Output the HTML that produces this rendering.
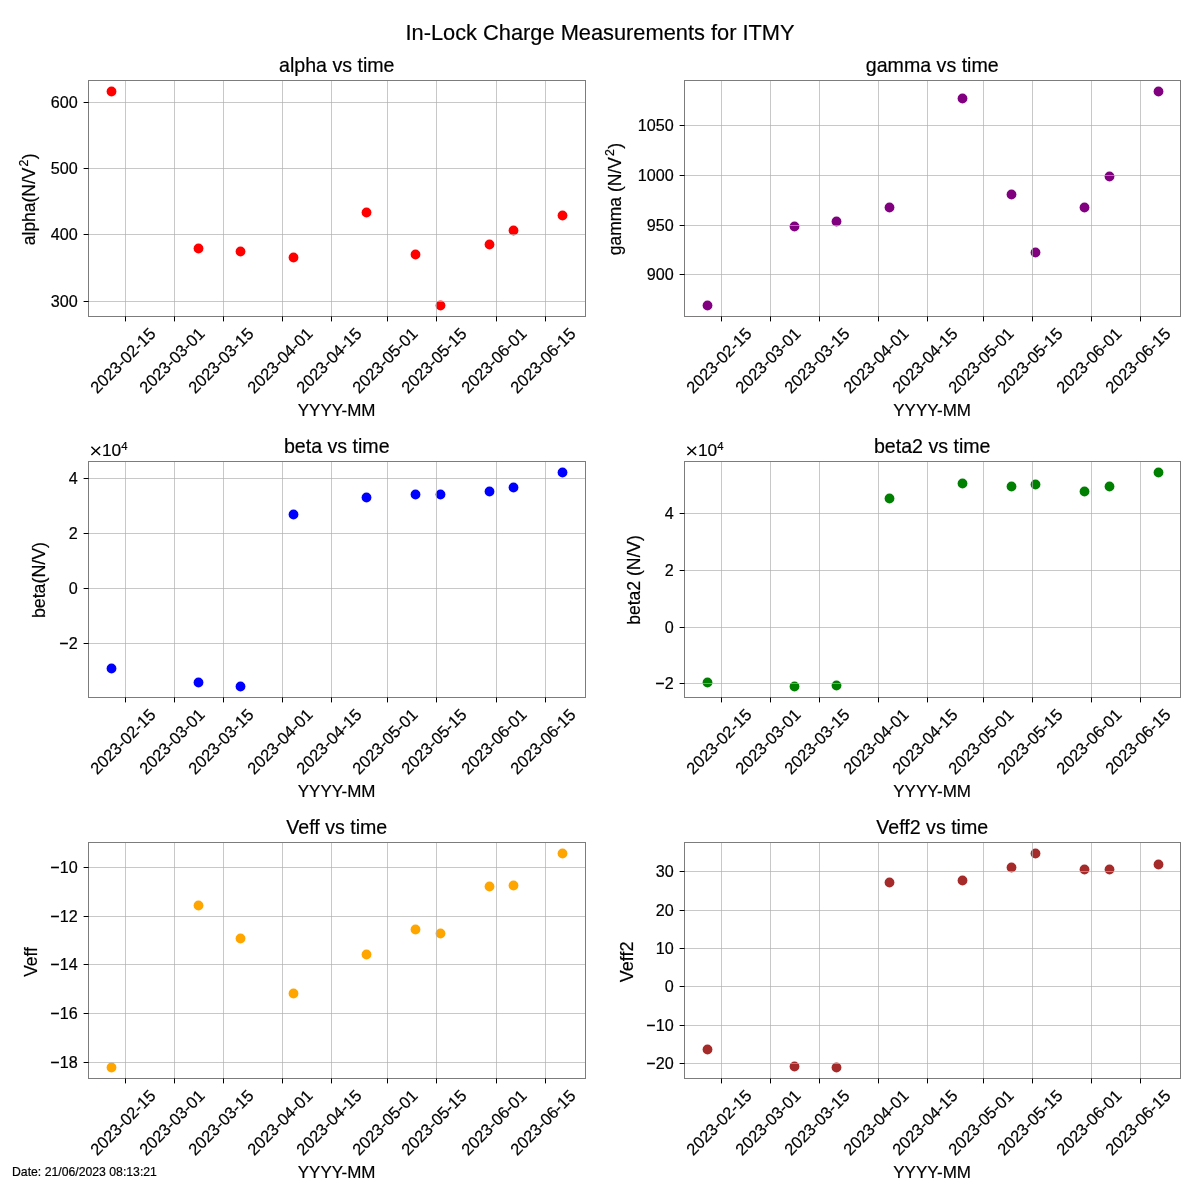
<!DOCTYPE html>
<html><head><meta charset="utf-8"><title>In-Lock Charge Measurements for ITMY</title>
<style>html,body{margin:0;padding:0;background:#fff;overflow:hidden}svg{display:block}text{font-family:"Liberation Sans", sans-serif;fill:#000;stroke:#000;stroke-width:0.2px}.t{filter:grayscale(1)}</style></head><body>
<svg width="1200" height="1200" viewBox="0 0 1200 1200">
<rect width="1200" height="1200" fill="#fff"/>
<g>
<g fill="#ff0000">
<circle cx="111.5" cy="91.5" r="4.9"/>
<circle cx="198.5" cy="248.5" r="4.9"/>
<circle cx="240.5" cy="251.5" r="4.9"/>
<circle cx="293.5" cy="257.5" r="4.9"/>
<circle cx="366.5" cy="212.5" r="4.9"/>
<circle cx="415.5" cy="254.5" r="4.9"/>
<circle cx="440.5" cy="305.5" r="4.9"/>
<circle cx="489.5" cy="244.5" r="4.9"/>
<circle cx="513.5" cy="230.5" r="4.9"/>
<circle cx="562.5" cy="215.5" r="4.9"/>
</g>
<g fill="#b0b0b0" fill-opacity="0.69" shape-rendering="crispEdges">
<rect x="125" y="81" width="1" height="235"/>
<rect x="174" y="81" width="1" height="235"/>
<rect x="223" y="81" width="1" height="235"/>
<rect x="282" y="81" width="1" height="235"/>
<rect x="331" y="81" width="1" height="235"/>
<rect x="387" y="81" width="1" height="235"/>
<rect x="436" y="81" width="1" height="235"/>
<rect x="496" y="81" width="1" height="235"/>
<rect x="545" y="81" width="1" height="235"/>
<rect x="89" y="102" width="496" height="1"/>
<rect x="89" y="168" width="496" height="1"/>
<rect x="89" y="234" width="496" height="1"/>
<rect x="89" y="301" width="496" height="1"/>
</g>
<g fill="#7c7c7c" shape-rendering="crispEdges">
<rect x="88" y="80" width="498" height="1"/>
<rect x="88" y="316" width="498" height="1"/>
<rect x="88" y="80" width="1" height="237"/>
<rect x="585" y="80" width="1" height="237"/>
</g>
<g fill="#000" shape-rendering="crispEdges">
<rect x="125" y="317" width="1" height="4"/>
<rect x="125" y="316" width="1" height="1" fill-opacity="0.6"/>
<rect x="125" y="321" width="1" height="1" fill-opacity="0.4"/>
<rect x="174" y="317" width="1" height="4"/>
<rect x="174" y="316" width="1" height="1" fill-opacity="0.6"/>
<rect x="174" y="321" width="1" height="1" fill-opacity="0.4"/>
<rect x="223" y="317" width="1" height="4"/>
<rect x="223" y="316" width="1" height="1" fill-opacity="0.6"/>
<rect x="223" y="321" width="1" height="1" fill-opacity="0.4"/>
<rect x="282" y="317" width="1" height="4"/>
<rect x="282" y="316" width="1" height="1" fill-opacity="0.6"/>
<rect x="282" y="321" width="1" height="1" fill-opacity="0.4"/>
<rect x="331" y="317" width="1" height="4"/>
<rect x="331" y="316" width="1" height="1" fill-opacity="0.6"/>
<rect x="331" y="321" width="1" height="1" fill-opacity="0.4"/>
<rect x="387" y="317" width="1" height="4"/>
<rect x="387" y="316" width="1" height="1" fill-opacity="0.6"/>
<rect x="387" y="321" width="1" height="1" fill-opacity="0.4"/>
<rect x="436" y="317" width="1" height="4"/>
<rect x="436" y="316" width="1" height="1" fill-opacity="0.6"/>
<rect x="436" y="321" width="1" height="1" fill-opacity="0.4"/>
<rect x="496" y="317" width="1" height="4"/>
<rect x="496" y="316" width="1" height="1" fill-opacity="0.6"/>
<rect x="496" y="321" width="1" height="1" fill-opacity="0.4"/>
<rect x="545" y="317" width="1" height="4"/>
<rect x="545" y="316" width="1" height="1" fill-opacity="0.6"/>
<rect x="545" y="321" width="1" height="1" fill-opacity="0.4"/>
<rect x="84" y="102" width="4" height="1"/>
<rect x="88" y="102" width="1" height="1" fill-opacity="0.6"/>
<rect x="83" y="102" width="1" height="1" fill-opacity="0.4"/>
<rect x="84" y="168" width="4" height="1"/>
<rect x="88" y="168" width="1" height="1" fill-opacity="0.6"/>
<rect x="83" y="168" width="1" height="1" fill-opacity="0.4"/>
<rect x="84" y="234" width="4" height="1"/>
<rect x="88" y="234" width="1" height="1" fill-opacity="0.6"/>
<rect x="83" y="234" width="1" height="1" fill-opacity="0.4"/>
<rect x="84" y="301" width="4" height="1"/>
<rect x="88" y="301" width="1" height="1" fill-opacity="0.6"/>
<rect x="83" y="301" width="1" height="1" fill-opacity="0.4"/>
</g>
</g>
<g>
<g fill="#800080">
<circle cx="707.5" cy="305.5" r="4.9"/>
<circle cx="794.5" cy="226.5" r="4.9"/>
<circle cx="836.5" cy="221.5" r="4.9"/>
<circle cx="889.5" cy="207.5" r="4.9"/>
<circle cx="962.5" cy="98.5" r="4.9"/>
<circle cx="1011.5" cy="194.5" r="4.9"/>
<circle cx="1035.5" cy="252.5" r="4.9"/>
<circle cx="1084.5" cy="207.5" r="4.9"/>
<circle cx="1109.5" cy="176.5" r="4.9"/>
<circle cx="1158.5" cy="91.5" r="4.9"/>
</g>
<g fill="#b0b0b0" fill-opacity="0.69" shape-rendering="crispEdges">
<rect x="721" y="81" width="1" height="235"/>
<rect x="770" y="81" width="1" height="235"/>
<rect x="819" y="81" width="1" height="235"/>
<rect x="878" y="81" width="1" height="235"/>
<rect x="927" y="81" width="1" height="235"/>
<rect x="983" y="81" width="1" height="235"/>
<rect x="1032" y="81" width="1" height="235"/>
<rect x="1091" y="81" width="1" height="235"/>
<rect x="1140" y="81" width="1" height="235"/>
<rect x="685" y="125" width="495" height="1"/>
<rect x="685" y="175" width="495" height="1"/>
<rect x="685" y="225" width="495" height="1"/>
<rect x="685" y="274" width="495" height="1"/>
</g>
<g fill="#7c7c7c" shape-rendering="crispEdges">
<rect x="684" y="80" width="497" height="1"/>
<rect x="684" y="316" width="497" height="1"/>
<rect x="684" y="80" width="1" height="237"/>
<rect x="1180" y="80" width="1" height="237"/>
</g>
<g fill="#000" shape-rendering="crispEdges">
<rect x="721" y="317" width="1" height="4"/>
<rect x="721" y="316" width="1" height="1" fill-opacity="0.6"/>
<rect x="721" y="321" width="1" height="1" fill-opacity="0.4"/>
<rect x="770" y="317" width="1" height="4"/>
<rect x="770" y="316" width="1" height="1" fill-opacity="0.6"/>
<rect x="770" y="321" width="1" height="1" fill-opacity="0.4"/>
<rect x="819" y="317" width="1" height="4"/>
<rect x="819" y="316" width="1" height="1" fill-opacity="0.6"/>
<rect x="819" y="321" width="1" height="1" fill-opacity="0.4"/>
<rect x="878" y="317" width="1" height="4"/>
<rect x="878" y="316" width="1" height="1" fill-opacity="0.6"/>
<rect x="878" y="321" width="1" height="1" fill-opacity="0.4"/>
<rect x="927" y="317" width="1" height="4"/>
<rect x="927" y="316" width="1" height="1" fill-opacity="0.6"/>
<rect x="927" y="321" width="1" height="1" fill-opacity="0.4"/>
<rect x="983" y="317" width="1" height="4"/>
<rect x="983" y="316" width="1" height="1" fill-opacity="0.6"/>
<rect x="983" y="321" width="1" height="1" fill-opacity="0.4"/>
<rect x="1032" y="317" width="1" height="4"/>
<rect x="1032" y="316" width="1" height="1" fill-opacity="0.6"/>
<rect x="1032" y="321" width="1" height="1" fill-opacity="0.4"/>
<rect x="1091" y="317" width="1" height="4"/>
<rect x="1091" y="316" width="1" height="1" fill-opacity="0.6"/>
<rect x="1091" y="321" width="1" height="1" fill-opacity="0.4"/>
<rect x="1140" y="317" width="1" height="4"/>
<rect x="1140" y="316" width="1" height="1" fill-opacity="0.6"/>
<rect x="1140" y="321" width="1" height="1" fill-opacity="0.4"/>
<rect x="680" y="125" width="4" height="1"/>
<rect x="684" y="125" width="1" height="1" fill-opacity="0.6"/>
<rect x="679" y="125" width="1" height="1" fill-opacity="0.4"/>
<rect x="680" y="175" width="4" height="1"/>
<rect x="684" y="175" width="1" height="1" fill-opacity="0.6"/>
<rect x="679" y="175" width="1" height="1" fill-opacity="0.4"/>
<rect x="680" y="225" width="4" height="1"/>
<rect x="684" y="225" width="1" height="1" fill-opacity="0.6"/>
<rect x="679" y="225" width="1" height="1" fill-opacity="0.4"/>
<rect x="680" y="274" width="4" height="1"/>
<rect x="684" y="274" width="1" height="1" fill-opacity="0.6"/>
<rect x="679" y="274" width="1" height="1" fill-opacity="0.4"/>
</g>
</g>
<g>
<g fill="#0000ff">
<circle cx="111.5" cy="668.5" r="4.9"/>
<circle cx="198.5" cy="682.5" r="4.9"/>
<circle cx="240.5" cy="686.5" r="4.9"/>
<circle cx="293.5" cy="514.5" r="4.9"/>
<circle cx="366.5" cy="497.5" r="4.9"/>
<circle cx="415.5" cy="494.5" r="4.9"/>
<circle cx="440.5" cy="494.5" r="4.9"/>
<circle cx="489.5" cy="491.5" r="4.9"/>
<circle cx="513.5" cy="487.5" r="4.9"/>
<circle cx="562.5" cy="472.5" r="4.9"/>
</g>
<g fill="#b0b0b0" fill-opacity="0.69" shape-rendering="crispEdges">
<rect x="125" y="462" width="1" height="235"/>
<rect x="174" y="462" width="1" height="235"/>
<rect x="223" y="462" width="1" height="235"/>
<rect x="282" y="462" width="1" height="235"/>
<rect x="331" y="462" width="1" height="235"/>
<rect x="387" y="462" width="1" height="235"/>
<rect x="436" y="462" width="1" height="235"/>
<rect x="496" y="462" width="1" height="235"/>
<rect x="545" y="462" width="1" height="235"/>
<rect x="89" y="478" width="496" height="1"/>
<rect x="89" y="533" width="496" height="1"/>
<rect x="89" y="588" width="496" height="1"/>
<rect x="89" y="643" width="496" height="1"/>
</g>
<g fill="#7c7c7c" shape-rendering="crispEdges">
<rect x="88" y="461" width="498" height="1"/>
<rect x="88" y="697" width="498" height="1"/>
<rect x="88" y="461" width="1" height="237"/>
<rect x="585" y="461" width="1" height="237"/>
</g>
<g fill="#000" shape-rendering="crispEdges">
<rect x="125" y="698" width="1" height="4"/>
<rect x="125" y="697" width="1" height="1" fill-opacity="0.6"/>
<rect x="125" y="702" width="1" height="1" fill-opacity="0.4"/>
<rect x="174" y="698" width="1" height="4"/>
<rect x="174" y="697" width="1" height="1" fill-opacity="0.6"/>
<rect x="174" y="702" width="1" height="1" fill-opacity="0.4"/>
<rect x="223" y="698" width="1" height="4"/>
<rect x="223" y="697" width="1" height="1" fill-opacity="0.6"/>
<rect x="223" y="702" width="1" height="1" fill-opacity="0.4"/>
<rect x="282" y="698" width="1" height="4"/>
<rect x="282" y="697" width="1" height="1" fill-opacity="0.6"/>
<rect x="282" y="702" width="1" height="1" fill-opacity="0.4"/>
<rect x="331" y="698" width="1" height="4"/>
<rect x="331" y="697" width="1" height="1" fill-opacity="0.6"/>
<rect x="331" y="702" width="1" height="1" fill-opacity="0.4"/>
<rect x="387" y="698" width="1" height="4"/>
<rect x="387" y="697" width="1" height="1" fill-opacity="0.6"/>
<rect x="387" y="702" width="1" height="1" fill-opacity="0.4"/>
<rect x="436" y="698" width="1" height="4"/>
<rect x="436" y="697" width="1" height="1" fill-opacity="0.6"/>
<rect x="436" y="702" width="1" height="1" fill-opacity="0.4"/>
<rect x="496" y="698" width="1" height="4"/>
<rect x="496" y="697" width="1" height="1" fill-opacity="0.6"/>
<rect x="496" y="702" width="1" height="1" fill-opacity="0.4"/>
<rect x="545" y="698" width="1" height="4"/>
<rect x="545" y="697" width="1" height="1" fill-opacity="0.6"/>
<rect x="545" y="702" width="1" height="1" fill-opacity="0.4"/>
<rect x="84" y="478" width="4" height="1"/>
<rect x="88" y="478" width="1" height="1" fill-opacity="0.6"/>
<rect x="83" y="478" width="1" height="1" fill-opacity="0.4"/>
<rect x="84" y="533" width="4" height="1"/>
<rect x="88" y="533" width="1" height="1" fill-opacity="0.6"/>
<rect x="83" y="533" width="1" height="1" fill-opacity="0.4"/>
<rect x="84" y="588" width="4" height="1"/>
<rect x="88" y="588" width="1" height="1" fill-opacity="0.6"/>
<rect x="83" y="588" width="1" height="1" fill-opacity="0.4"/>
<rect x="84" y="643" width="4" height="1"/>
<rect x="88" y="643" width="1" height="1" fill-opacity="0.6"/>
<rect x="83" y="643" width="1" height="1" fill-opacity="0.4"/>
</g>
</g>
<g>
<g fill="#008000">
<circle cx="707.5" cy="682.5" r="4.9"/>
<circle cx="794.5" cy="686.5" r="4.9"/>
<circle cx="836.5" cy="685.5" r="4.9"/>
<circle cx="889.5" cy="498.5" r="4.9"/>
<circle cx="962.5" cy="483.5" r="4.9"/>
<circle cx="1011.5" cy="486.5" r="4.9"/>
<circle cx="1035.5" cy="484.5" r="4.9"/>
<circle cx="1084.5" cy="491.5" r="4.9"/>
<circle cx="1109.5" cy="486.5" r="4.9"/>
<circle cx="1158.5" cy="472.5" r="4.9"/>
</g>
<g fill="#b0b0b0" fill-opacity="0.69" shape-rendering="crispEdges">
<rect x="721" y="462" width="1" height="235"/>
<rect x="770" y="462" width="1" height="235"/>
<rect x="819" y="462" width="1" height="235"/>
<rect x="878" y="462" width="1" height="235"/>
<rect x="927" y="462" width="1" height="235"/>
<rect x="983" y="462" width="1" height="235"/>
<rect x="1032" y="462" width="1" height="235"/>
<rect x="1091" y="462" width="1" height="235"/>
<rect x="1140" y="462" width="1" height="235"/>
<rect x="685" y="513" width="495" height="1"/>
<rect x="685" y="570" width="495" height="1"/>
<rect x="685" y="627" width="495" height="1"/>
<rect x="685" y="683" width="495" height="1"/>
</g>
<g fill="#7c7c7c" shape-rendering="crispEdges">
<rect x="684" y="461" width="497" height="1"/>
<rect x="684" y="697" width="497" height="1"/>
<rect x="684" y="461" width="1" height="237"/>
<rect x="1180" y="461" width="1" height="237"/>
</g>
<g fill="#000" shape-rendering="crispEdges">
<rect x="721" y="698" width="1" height="4"/>
<rect x="721" y="697" width="1" height="1" fill-opacity="0.6"/>
<rect x="721" y="702" width="1" height="1" fill-opacity="0.4"/>
<rect x="770" y="698" width="1" height="4"/>
<rect x="770" y="697" width="1" height="1" fill-opacity="0.6"/>
<rect x="770" y="702" width="1" height="1" fill-opacity="0.4"/>
<rect x="819" y="698" width="1" height="4"/>
<rect x="819" y="697" width="1" height="1" fill-opacity="0.6"/>
<rect x="819" y="702" width="1" height="1" fill-opacity="0.4"/>
<rect x="878" y="698" width="1" height="4"/>
<rect x="878" y="697" width="1" height="1" fill-opacity="0.6"/>
<rect x="878" y="702" width="1" height="1" fill-opacity="0.4"/>
<rect x="927" y="698" width="1" height="4"/>
<rect x="927" y="697" width="1" height="1" fill-opacity="0.6"/>
<rect x="927" y="702" width="1" height="1" fill-opacity="0.4"/>
<rect x="983" y="698" width="1" height="4"/>
<rect x="983" y="697" width="1" height="1" fill-opacity="0.6"/>
<rect x="983" y="702" width="1" height="1" fill-opacity="0.4"/>
<rect x="1032" y="698" width="1" height="4"/>
<rect x="1032" y="697" width="1" height="1" fill-opacity="0.6"/>
<rect x="1032" y="702" width="1" height="1" fill-opacity="0.4"/>
<rect x="1091" y="698" width="1" height="4"/>
<rect x="1091" y="697" width="1" height="1" fill-opacity="0.6"/>
<rect x="1091" y="702" width="1" height="1" fill-opacity="0.4"/>
<rect x="1140" y="698" width="1" height="4"/>
<rect x="1140" y="697" width="1" height="1" fill-opacity="0.6"/>
<rect x="1140" y="702" width="1" height="1" fill-opacity="0.4"/>
<rect x="680" y="513" width="4" height="1"/>
<rect x="684" y="513" width="1" height="1" fill-opacity="0.6"/>
<rect x="679" y="513" width="1" height="1" fill-opacity="0.4"/>
<rect x="680" y="570" width="4" height="1"/>
<rect x="684" y="570" width="1" height="1" fill-opacity="0.6"/>
<rect x="679" y="570" width="1" height="1" fill-opacity="0.4"/>
<rect x="680" y="627" width="4" height="1"/>
<rect x="684" y="627" width="1" height="1" fill-opacity="0.6"/>
<rect x="679" y="627" width="1" height="1" fill-opacity="0.4"/>
<rect x="680" y="683" width="4" height="1"/>
<rect x="684" y="683" width="1" height="1" fill-opacity="0.6"/>
<rect x="679" y="683" width="1" height="1" fill-opacity="0.4"/>
</g>
</g>
<g>
<g fill="#ffa500">
<circle cx="111.5" cy="1067.5" r="4.9"/>
<circle cx="198.5" cy="905.5" r="4.9"/>
<circle cx="240.5" cy="938.5" r="4.9"/>
<circle cx="293.5" cy="993.5" r="4.9"/>
<circle cx="366.5" cy="954.5" r="4.9"/>
<circle cx="415.5" cy="929.5" r="4.9"/>
<circle cx="440.5" cy="933.5" r="4.9"/>
<circle cx="489.5" cy="886.5" r="4.9"/>
<circle cx="513.5" cy="885.5" r="4.9"/>
<circle cx="562.5" cy="853.5" r="4.9"/>
</g>
<g fill="#b0b0b0" fill-opacity="0.69" shape-rendering="crispEdges">
<rect x="125" y="843" width="1" height="235"/>
<rect x="174" y="843" width="1" height="235"/>
<rect x="223" y="843" width="1" height="235"/>
<rect x="282" y="843" width="1" height="235"/>
<rect x="331" y="843" width="1" height="235"/>
<rect x="387" y="843" width="1" height="235"/>
<rect x="436" y="843" width="1" height="235"/>
<rect x="496" y="843" width="1" height="235"/>
<rect x="545" y="843" width="1" height="235"/>
<rect x="89" y="867" width="496" height="1"/>
<rect x="89" y="916" width="496" height="1"/>
<rect x="89" y="964" width="496" height="1"/>
<rect x="89" y="1013" width="496" height="1"/>
<rect x="89" y="1062" width="496" height="1"/>
</g>
<g fill="#7c7c7c" shape-rendering="crispEdges">
<rect x="88" y="842" width="498" height="1"/>
<rect x="88" y="1078" width="498" height="1"/>
<rect x="88" y="842" width="1" height="237"/>
<rect x="585" y="842" width="1" height="237"/>
</g>
<g fill="#000" shape-rendering="crispEdges">
<rect x="125" y="1079" width="1" height="4"/>
<rect x="125" y="1078" width="1" height="1" fill-opacity="0.6"/>
<rect x="125" y="1083" width="1" height="1" fill-opacity="0.4"/>
<rect x="174" y="1079" width="1" height="4"/>
<rect x="174" y="1078" width="1" height="1" fill-opacity="0.6"/>
<rect x="174" y="1083" width="1" height="1" fill-opacity="0.4"/>
<rect x="223" y="1079" width="1" height="4"/>
<rect x="223" y="1078" width="1" height="1" fill-opacity="0.6"/>
<rect x="223" y="1083" width="1" height="1" fill-opacity="0.4"/>
<rect x="282" y="1079" width="1" height="4"/>
<rect x="282" y="1078" width="1" height="1" fill-opacity="0.6"/>
<rect x="282" y="1083" width="1" height="1" fill-opacity="0.4"/>
<rect x="331" y="1079" width="1" height="4"/>
<rect x="331" y="1078" width="1" height="1" fill-opacity="0.6"/>
<rect x="331" y="1083" width="1" height="1" fill-opacity="0.4"/>
<rect x="387" y="1079" width="1" height="4"/>
<rect x="387" y="1078" width="1" height="1" fill-opacity="0.6"/>
<rect x="387" y="1083" width="1" height="1" fill-opacity="0.4"/>
<rect x="436" y="1079" width="1" height="4"/>
<rect x="436" y="1078" width="1" height="1" fill-opacity="0.6"/>
<rect x="436" y="1083" width="1" height="1" fill-opacity="0.4"/>
<rect x="496" y="1079" width="1" height="4"/>
<rect x="496" y="1078" width="1" height="1" fill-opacity="0.6"/>
<rect x="496" y="1083" width="1" height="1" fill-opacity="0.4"/>
<rect x="545" y="1079" width="1" height="4"/>
<rect x="545" y="1078" width="1" height="1" fill-opacity="0.6"/>
<rect x="545" y="1083" width="1" height="1" fill-opacity="0.4"/>
<rect x="84" y="867" width="4" height="1"/>
<rect x="88" y="867" width="1" height="1" fill-opacity="0.6"/>
<rect x="83" y="867" width="1" height="1" fill-opacity="0.4"/>
<rect x="84" y="916" width="4" height="1"/>
<rect x="88" y="916" width="1" height="1" fill-opacity="0.6"/>
<rect x="83" y="916" width="1" height="1" fill-opacity="0.4"/>
<rect x="84" y="964" width="4" height="1"/>
<rect x="88" y="964" width="1" height="1" fill-opacity="0.6"/>
<rect x="83" y="964" width="1" height="1" fill-opacity="0.4"/>
<rect x="84" y="1013" width="4" height="1"/>
<rect x="88" y="1013" width="1" height="1" fill-opacity="0.6"/>
<rect x="83" y="1013" width="1" height="1" fill-opacity="0.4"/>
<rect x="84" y="1062" width="4" height="1"/>
<rect x="88" y="1062" width="1" height="1" fill-opacity="0.6"/>
<rect x="83" y="1062" width="1" height="1" fill-opacity="0.4"/>
</g>
</g>
<g>
<g fill="#a52a2a">
<circle cx="707.5" cy="1049.5" r="4.9"/>
<circle cx="794.5" cy="1066.5" r="4.9"/>
<circle cx="836.5" cy="1067.5" r="4.9"/>
<circle cx="889.5" cy="882.5" r="4.9"/>
<circle cx="962.5" cy="880.5" r="4.9"/>
<circle cx="1011.5" cy="867.5" r="4.9"/>
<circle cx="1035.5" cy="853.5" r="4.9"/>
<circle cx="1084.5" cy="869.5" r="4.9"/>
<circle cx="1109.5" cy="869.5" r="4.9"/>
<circle cx="1158.5" cy="864.5" r="4.9"/>
</g>
<g fill="#b0b0b0" fill-opacity="0.69" shape-rendering="crispEdges">
<rect x="721" y="843" width="1" height="235"/>
<rect x="770" y="843" width="1" height="235"/>
<rect x="819" y="843" width="1" height="235"/>
<rect x="878" y="843" width="1" height="235"/>
<rect x="927" y="843" width="1" height="235"/>
<rect x="983" y="843" width="1" height="235"/>
<rect x="1032" y="843" width="1" height="235"/>
<rect x="1091" y="843" width="1" height="235"/>
<rect x="1140" y="843" width="1" height="235"/>
<rect x="685" y="871" width="495" height="1"/>
<rect x="685" y="910" width="495" height="1"/>
<rect x="685" y="948" width="495" height="1"/>
<rect x="685" y="986" width="495" height="1"/>
<rect x="685" y="1025" width="495" height="1"/>
<rect x="685" y="1063" width="495" height="1"/>
</g>
<g fill="#7c7c7c" shape-rendering="crispEdges">
<rect x="684" y="842" width="497" height="1"/>
<rect x="684" y="1078" width="497" height="1"/>
<rect x="684" y="842" width="1" height="237"/>
<rect x="1180" y="842" width="1" height="237"/>
</g>
<g fill="#000" shape-rendering="crispEdges">
<rect x="721" y="1079" width="1" height="4"/>
<rect x="721" y="1078" width="1" height="1" fill-opacity="0.6"/>
<rect x="721" y="1083" width="1" height="1" fill-opacity="0.4"/>
<rect x="770" y="1079" width="1" height="4"/>
<rect x="770" y="1078" width="1" height="1" fill-opacity="0.6"/>
<rect x="770" y="1083" width="1" height="1" fill-opacity="0.4"/>
<rect x="819" y="1079" width="1" height="4"/>
<rect x="819" y="1078" width="1" height="1" fill-opacity="0.6"/>
<rect x="819" y="1083" width="1" height="1" fill-opacity="0.4"/>
<rect x="878" y="1079" width="1" height="4"/>
<rect x="878" y="1078" width="1" height="1" fill-opacity="0.6"/>
<rect x="878" y="1083" width="1" height="1" fill-opacity="0.4"/>
<rect x="927" y="1079" width="1" height="4"/>
<rect x="927" y="1078" width="1" height="1" fill-opacity="0.6"/>
<rect x="927" y="1083" width="1" height="1" fill-opacity="0.4"/>
<rect x="983" y="1079" width="1" height="4"/>
<rect x="983" y="1078" width="1" height="1" fill-opacity="0.6"/>
<rect x="983" y="1083" width="1" height="1" fill-opacity="0.4"/>
<rect x="1032" y="1079" width="1" height="4"/>
<rect x="1032" y="1078" width="1" height="1" fill-opacity="0.6"/>
<rect x="1032" y="1083" width="1" height="1" fill-opacity="0.4"/>
<rect x="1091" y="1079" width="1" height="4"/>
<rect x="1091" y="1078" width="1" height="1" fill-opacity="0.6"/>
<rect x="1091" y="1083" width="1" height="1" fill-opacity="0.4"/>
<rect x="1140" y="1079" width="1" height="4"/>
<rect x="1140" y="1078" width="1" height="1" fill-opacity="0.6"/>
<rect x="1140" y="1083" width="1" height="1" fill-opacity="0.4"/>
<rect x="680" y="871" width="4" height="1"/>
<rect x="684" y="871" width="1" height="1" fill-opacity="0.6"/>
<rect x="679" y="871" width="1" height="1" fill-opacity="0.4"/>
<rect x="680" y="910" width="4" height="1"/>
<rect x="684" y="910" width="1" height="1" fill-opacity="0.6"/>
<rect x="679" y="910" width="1" height="1" fill-opacity="0.4"/>
<rect x="680" y="948" width="4" height="1"/>
<rect x="684" y="948" width="1" height="1" fill-opacity="0.6"/>
<rect x="679" y="948" width="1" height="1" fill-opacity="0.4"/>
<rect x="680" y="986" width="4" height="1"/>
<rect x="684" y="986" width="1" height="1" fill-opacity="0.6"/>
<rect x="679" y="986" width="1" height="1" fill-opacity="0.4"/>
<rect x="680" y="1025" width="4" height="1"/>
<rect x="684" y="1025" width="1" height="1" fill-opacity="0.6"/>
<rect x="679" y="1025" width="1" height="1" fill-opacity="0.4"/>
<rect x="680" y="1063" width="4" height="1"/>
<rect x="684" y="1063" width="1" height="1" fill-opacity="0.6"/>
<rect x="679" y="1063" width="1" height="1" fill-opacity="0.4"/>
</g>
</g>
<g class="t">
<text transform="translate(600.00 40.10) scale(0.983 1)" font-size="22.2px" text-anchor="middle">In-Lock Charge Measurements for ITMY</text>
<text transform="translate(77.70 108.45) scale(0.97 1)" font-size="16.67px" text-anchor="end">600</text>
<text transform="translate(77.70 174.45) scale(0.97 1)" font-size="16.67px" text-anchor="end">500</text>
<text transform="translate(77.70 240.45) scale(0.97 1)" font-size="16.67px" text-anchor="end">400</text>
<text transform="translate(77.70 307.45) scale(0.97 1)" font-size="16.67px" text-anchor="end">300</text>
<text transform="translate(123.80 361.45) rotate(-45) scale(0.985 1)" font-size="16.67px" text-anchor="middle" dy="4.4">2023-02-15</text>
<text transform="translate(172.80 361.45) rotate(-45) scale(0.985 1)" font-size="16.67px" text-anchor="middle" dy="4.4">2023-03-01</text>
<text transform="translate(221.80 361.45) rotate(-45) scale(0.985 1)" font-size="16.67px" text-anchor="middle" dy="4.4">2023-03-15</text>
<text transform="translate(280.80 361.45) rotate(-45) scale(0.985 1)" font-size="16.67px" text-anchor="middle" dy="4.4">2023-04-01</text>
<text transform="translate(329.80 361.45) rotate(-45) scale(0.985 1)" font-size="16.67px" text-anchor="middle" dy="4.4">2023-04-15</text>
<text transform="translate(385.80 361.45) rotate(-45) scale(0.985 1)" font-size="16.67px" text-anchor="middle" dy="4.4">2023-05-01</text>
<text transform="translate(434.80 361.45) rotate(-45) scale(0.985 1)" font-size="16.67px" text-anchor="middle" dy="4.4">2023-05-15</text>
<text transform="translate(494.80 361.45) rotate(-45) scale(0.985 1)" font-size="16.67px" text-anchor="middle" dy="4.4">2023-06-01</text>
<text transform="translate(543.80 361.45) rotate(-45) scale(0.985 1)" font-size="16.67px" text-anchor="middle" dy="4.4">2023-06-15</text>
<text transform="translate(336.75 72.20) scale(0.98 1)" font-size="20px" text-anchor="middle">alpha vs time</text>
<text transform="translate(336.60 415.60) scale(1.02 1)" font-size="16.67px" text-anchor="middle">YYYY-MM</text>
<text transform="translate(34.90 199.25) rotate(-90) scale(0.9193 1)" font-size="19px" text-anchor="middle">alpha(N/V<tspan font-size="13.3px" dy="-7.0" dx="1.2">2</tspan><tspan dy="7.0" dx="0.6">)</tspan></text>
<text transform="translate(673.70 131.45) scale(0.97 1)" font-size="16.67px" text-anchor="end">1050</text>
<text transform="translate(673.70 181.45) scale(0.97 1)" font-size="16.67px" text-anchor="end">1000</text>
<text transform="translate(673.70 231.45) scale(0.97 1)" font-size="16.67px" text-anchor="end">950</text>
<text transform="translate(673.70 280.45) scale(0.97 1)" font-size="16.67px" text-anchor="end">900</text>
<text transform="translate(719.80 361.45) rotate(-45) scale(0.985 1)" font-size="16.67px" text-anchor="middle" dy="4.4">2023-02-15</text>
<text transform="translate(768.80 361.45) rotate(-45) scale(0.985 1)" font-size="16.67px" text-anchor="middle" dy="4.4">2023-03-01</text>
<text transform="translate(817.80 361.45) rotate(-45) scale(0.985 1)" font-size="16.67px" text-anchor="middle" dy="4.4">2023-03-15</text>
<text transform="translate(876.80 361.45) rotate(-45) scale(0.985 1)" font-size="16.67px" text-anchor="middle" dy="4.4">2023-04-01</text>
<text transform="translate(925.80 361.45) rotate(-45) scale(0.985 1)" font-size="16.67px" text-anchor="middle" dy="4.4">2023-04-15</text>
<text transform="translate(981.80 361.45) rotate(-45) scale(0.985 1)" font-size="16.67px" text-anchor="middle" dy="4.4">2023-05-01</text>
<text transform="translate(1030.80 361.45) rotate(-45) scale(0.985 1)" font-size="16.67px" text-anchor="middle" dy="4.4">2023-05-15</text>
<text transform="translate(1089.80 361.45) rotate(-45) scale(0.985 1)" font-size="16.67px" text-anchor="middle" dy="4.4">2023-06-01</text>
<text transform="translate(1138.80 361.45) rotate(-45) scale(0.985 1)" font-size="16.67px" text-anchor="middle" dy="4.4">2023-06-15</text>
<text transform="translate(932.25 72.20) scale(0.98 1)" font-size="20px" text-anchor="middle">gamma vs time</text>
<text transform="translate(932.10 415.60) scale(1.02 1)" font-size="16.67px" text-anchor="middle">YYYY-MM</text>
<text transform="translate(621.00 199.05) rotate(-90) scale(0.9193 1)" font-size="19px" text-anchor="middle">gamma (N/V<tspan font-size="13.3px" dy="-7.0" dx="1.2">2</tspan><tspan dy="7.0" dx="0.6">)</tspan></text>
<text transform="translate(77.70 484.45) scale(0.97 1)" font-size="16.67px" text-anchor="end">4</text>
<text transform="translate(77.70 539.45) scale(0.97 1)" font-size="16.67px" text-anchor="end">2</text>
<text transform="translate(77.70 594.45) scale(0.97 1)" font-size="16.67px" text-anchor="end">0</text>
<text transform="translate(77.70 649.45) scale(0.97 1)" font-size="16.67px" text-anchor="end">−2</text>
<text transform="translate(123.80 742.45) rotate(-45) scale(0.985 1)" font-size="16.67px" text-anchor="middle" dy="4.4">2023-02-15</text>
<text transform="translate(172.80 742.45) rotate(-45) scale(0.985 1)" font-size="16.67px" text-anchor="middle" dy="4.4">2023-03-01</text>
<text transform="translate(221.80 742.45) rotate(-45) scale(0.985 1)" font-size="16.67px" text-anchor="middle" dy="4.4">2023-03-15</text>
<text transform="translate(280.80 742.45) rotate(-45) scale(0.985 1)" font-size="16.67px" text-anchor="middle" dy="4.4">2023-04-01</text>
<text transform="translate(329.80 742.45) rotate(-45) scale(0.985 1)" font-size="16.67px" text-anchor="middle" dy="4.4">2023-04-15</text>
<text transform="translate(385.80 742.45) rotate(-45) scale(0.985 1)" font-size="16.67px" text-anchor="middle" dy="4.4">2023-05-01</text>
<text transform="translate(434.80 742.45) rotate(-45) scale(0.985 1)" font-size="16.67px" text-anchor="middle" dy="4.4">2023-05-15</text>
<text transform="translate(494.80 742.45) rotate(-45) scale(0.985 1)" font-size="16.67px" text-anchor="middle" dy="4.4">2023-06-01</text>
<text transform="translate(543.80 742.45) rotate(-45) scale(0.985 1)" font-size="16.67px" text-anchor="middle" dy="4.4">2023-06-15</text>
<text transform="translate(336.75 453.20) scale(0.98 1)" font-size="20px" text-anchor="middle">beta vs time</text>
<text transform="translate(336.60 796.60) scale(1.02 1)" font-size="16.67px" text-anchor="middle">YYYY-MM</text>
<text transform="translate(44.80 580.10) rotate(-90) scale(0.9355 1)" font-size="19px" text-anchor="middle">beta(N/V)</text>
<path d="M91.40 446.70L100.10 455.00M91.40 455.00L100.10 446.70" stroke="#000" stroke-width="1.45" fill="none"/>
<text transform="translate(101.90 455.70) scale(1.04 1)" font-size="16.67px" text-anchor="start">10</text>
<text transform="translate(121.20 450.00) scale(0.97 1)" font-size="11.669px" text-anchor="start">4</text>
<text transform="translate(673.70 519.45) scale(0.97 1)" font-size="16.67px" text-anchor="end">4</text>
<text transform="translate(673.70 576.45) scale(0.97 1)" font-size="16.67px" text-anchor="end">2</text>
<text transform="translate(673.70 633.45) scale(0.97 1)" font-size="16.67px" text-anchor="end">0</text>
<text transform="translate(673.70 689.45) scale(0.97 1)" font-size="16.67px" text-anchor="end">−2</text>
<text transform="translate(719.80 742.45) rotate(-45) scale(0.985 1)" font-size="16.67px" text-anchor="middle" dy="4.4">2023-02-15</text>
<text transform="translate(768.80 742.45) rotate(-45) scale(0.985 1)" font-size="16.67px" text-anchor="middle" dy="4.4">2023-03-01</text>
<text transform="translate(817.80 742.45) rotate(-45) scale(0.985 1)" font-size="16.67px" text-anchor="middle" dy="4.4">2023-03-15</text>
<text transform="translate(876.80 742.45) rotate(-45) scale(0.985 1)" font-size="16.67px" text-anchor="middle" dy="4.4">2023-04-01</text>
<text transform="translate(925.80 742.45) rotate(-45) scale(0.985 1)" font-size="16.67px" text-anchor="middle" dy="4.4">2023-04-15</text>
<text transform="translate(981.80 742.45) rotate(-45) scale(0.985 1)" font-size="16.67px" text-anchor="middle" dy="4.4">2023-05-01</text>
<text transform="translate(1030.80 742.45) rotate(-45) scale(0.985 1)" font-size="16.67px" text-anchor="middle" dy="4.4">2023-05-15</text>
<text transform="translate(1089.80 742.45) rotate(-45) scale(0.985 1)" font-size="16.67px" text-anchor="middle" dy="4.4">2023-06-01</text>
<text transform="translate(1138.80 742.45) rotate(-45) scale(0.985 1)" font-size="16.67px" text-anchor="middle" dy="4.4">2023-06-15</text>
<text transform="translate(932.25 453.20) scale(0.98 1)" font-size="20px" text-anchor="middle">beta2 vs time</text>
<text transform="translate(932.10 796.60) scale(1.02 1)" font-size="16.67px" text-anchor="middle">YYYY-MM</text>
<text transform="translate(640.10 580.00) rotate(-90) scale(0.9244 1)" font-size="19px" text-anchor="middle">beta2 (N/V)</text>
<path d="M687.40 446.70L696.10 455.00M687.40 455.00L696.10 446.70" stroke="#000" stroke-width="1.45" fill="none"/>
<text transform="translate(697.90 455.70) scale(1.04 1)" font-size="16.67px" text-anchor="start">10</text>
<text transform="translate(717.20 450.00) scale(0.97 1)" font-size="11.669px" text-anchor="start">4</text>
<text transform="translate(77.70 873.45) scale(0.97 1)" font-size="16.67px" text-anchor="end">−10</text>
<text transform="translate(77.70 922.45) scale(0.97 1)" font-size="16.67px" text-anchor="end">−12</text>
<text transform="translate(77.70 970.45) scale(0.97 1)" font-size="16.67px" text-anchor="end">−14</text>
<text transform="translate(77.70 1019.45) scale(0.97 1)" font-size="16.67px" text-anchor="end">−16</text>
<text transform="translate(77.70 1068.45) scale(0.97 1)" font-size="16.67px" text-anchor="end">−18</text>
<text transform="translate(123.80 1123.45) rotate(-45) scale(0.985 1)" font-size="16.67px" text-anchor="middle" dy="4.4">2023-02-15</text>
<text transform="translate(172.80 1123.45) rotate(-45) scale(0.985 1)" font-size="16.67px" text-anchor="middle" dy="4.4">2023-03-01</text>
<text transform="translate(221.80 1123.45) rotate(-45) scale(0.985 1)" font-size="16.67px" text-anchor="middle" dy="4.4">2023-03-15</text>
<text transform="translate(280.80 1123.45) rotate(-45) scale(0.985 1)" font-size="16.67px" text-anchor="middle" dy="4.4">2023-04-01</text>
<text transform="translate(329.80 1123.45) rotate(-45) scale(0.985 1)" font-size="16.67px" text-anchor="middle" dy="4.4">2023-04-15</text>
<text transform="translate(385.80 1123.45) rotate(-45) scale(0.985 1)" font-size="16.67px" text-anchor="middle" dy="4.4">2023-05-01</text>
<text transform="translate(434.80 1123.45) rotate(-45) scale(0.985 1)" font-size="16.67px" text-anchor="middle" dy="4.4">2023-05-15</text>
<text transform="translate(494.80 1123.45) rotate(-45) scale(0.985 1)" font-size="16.67px" text-anchor="middle" dy="4.4">2023-06-01</text>
<text transform="translate(543.80 1123.45) rotate(-45) scale(0.985 1)" font-size="16.67px" text-anchor="middle" dy="4.4">2023-06-15</text>
<text transform="translate(336.75 834.20) scale(0.98 1)" font-size="20px" text-anchor="middle">Veff vs time</text>
<text transform="translate(336.60 1177.60) scale(1.02 1)" font-size="16.67px" text-anchor="middle">YYYY-MM</text>
<text transform="translate(37.00 962.00) rotate(-90) scale(0.9142 1)" font-size="19px" text-anchor="middle">Veff</text>
<text transform="translate(673.70 877.45) scale(0.97 1)" font-size="16.67px" text-anchor="end">30</text>
<text transform="translate(673.70 916.45) scale(0.97 1)" font-size="16.67px" text-anchor="end">20</text>
<text transform="translate(673.70 954.45) scale(0.97 1)" font-size="16.67px" text-anchor="end">10</text>
<text transform="translate(673.70 992.45) scale(0.97 1)" font-size="16.67px" text-anchor="end">0</text>
<text transform="translate(673.70 1031.45) scale(0.97 1)" font-size="16.67px" text-anchor="end">−10</text>
<text transform="translate(673.70 1069.45) scale(0.97 1)" font-size="16.67px" text-anchor="end">−20</text>
<text transform="translate(719.80 1123.45) rotate(-45) scale(0.985 1)" font-size="16.67px" text-anchor="middle" dy="4.4">2023-02-15</text>
<text transform="translate(768.80 1123.45) rotate(-45) scale(0.985 1)" font-size="16.67px" text-anchor="middle" dy="4.4">2023-03-01</text>
<text transform="translate(817.80 1123.45) rotate(-45) scale(0.985 1)" font-size="16.67px" text-anchor="middle" dy="4.4">2023-03-15</text>
<text transform="translate(876.80 1123.45) rotate(-45) scale(0.985 1)" font-size="16.67px" text-anchor="middle" dy="4.4">2023-04-01</text>
<text transform="translate(925.80 1123.45) rotate(-45) scale(0.985 1)" font-size="16.67px" text-anchor="middle" dy="4.4">2023-04-15</text>
<text transform="translate(981.80 1123.45) rotate(-45) scale(0.985 1)" font-size="16.67px" text-anchor="middle" dy="4.4">2023-05-01</text>
<text transform="translate(1030.80 1123.45) rotate(-45) scale(0.985 1)" font-size="16.67px" text-anchor="middle" dy="4.4">2023-05-15</text>
<text transform="translate(1089.80 1123.45) rotate(-45) scale(0.985 1)" font-size="16.67px" text-anchor="middle" dy="4.4">2023-06-01</text>
<text transform="translate(1138.80 1123.45) rotate(-45) scale(0.985 1)" font-size="16.67px" text-anchor="middle" dy="4.4">2023-06-15</text>
<text transform="translate(932.25 834.20) scale(0.98 1)" font-size="20px" text-anchor="middle">Veff2 vs time</text>
<text transform="translate(932.10 1177.60) scale(1.02 1)" font-size="16.67px" text-anchor="middle">YYYY-MM</text>
<text transform="translate(633.00 961.85) rotate(-90) scale(0.9447 1)" font-size="19px" text-anchor="middle">Veff2</text>
<text transform="translate(12.00 1176.00) scale(0.98 1)" font-size="12.5px" text-anchor="start">Date: 21/06/2023 08:13:21</text>
</g>
</svg></body></html>
